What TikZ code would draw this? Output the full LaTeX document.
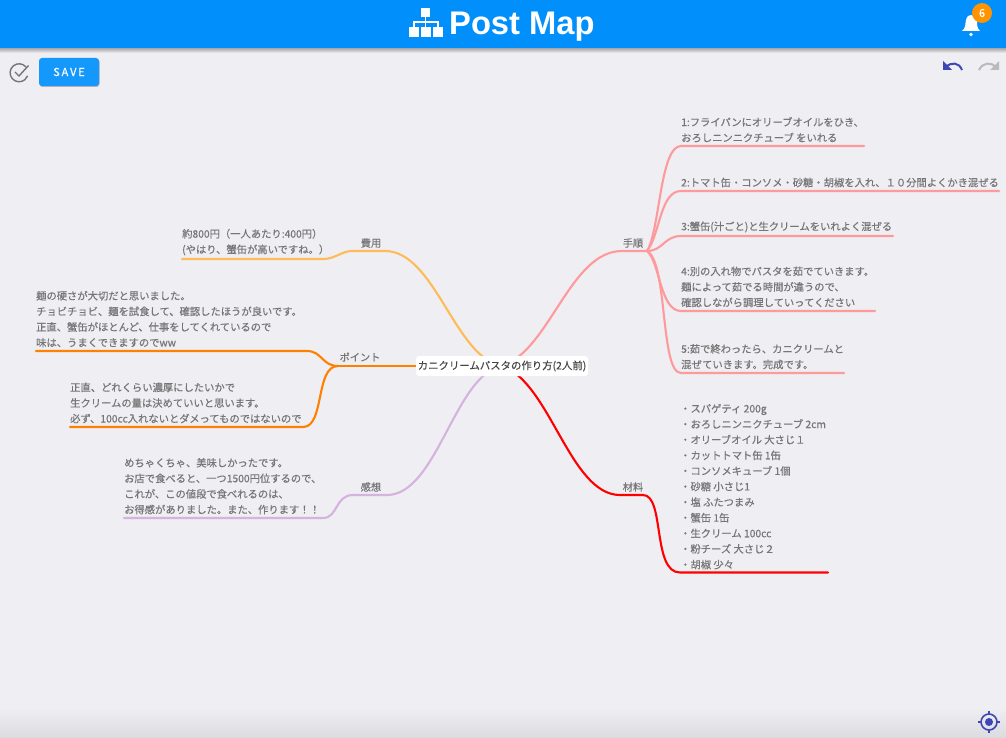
\documentclass[tikz,border=0pt]{standalone}
\usepackage{fontspec}
\setmainfont[FakeBold=0.35]{Noto Sans CJK JP}
\newfontfamily\titlefont[Scale=1]{Liberation Sans}
\usetikzlibrary{positioning}
\definecolor{pagebg}{HTML}{EEEEF3}
\definecolor{barblue}{HTML}{008FFB}
\definecolor{iconblue}{HTML}{3F47B5}
\definecolor{textgray}{HTML}{767676}
\definecolor{stepline}{HTML}{FF9A9C}
\definecolor{costline}{HTML}{FFBB58}
\definecolor{pointline}{HTML}{FF8000}
\definecolor{feelline}{HTML}{D6B2DE}
\definecolor{stuffline}{HTML}{FF0000}
\tikzset{
  branch/.style={line width=2.1pt, line cap=round},
  leaf/.style={inner sep=0pt, align=left, text=textgray, font=\fontsize{10.3}{15.6}\selectfont},
  topic/.style={inner sep=0pt, text=textgray, font=\fontsize{10.2}{12}\selectfont},
  rootbox/.style={fill=white, rounded corners=3pt, minimum width=172pt, minimum height=20pt, inner sep=0pt, text=black!72, font=\fontsize{10.4}{12}\selectfont},
}
\begin{document}
\begin{tikzpicture}[x=1pt,y=-1pt]
\useasboundingbox (0,0) rectangle (1006,738);
\fill[pagebg] (0,0) rectangle (1006,738);
\shade[top color=pagebg, bottom color=black!8!pagebg, draw=none] (0,708) rectangle (1006,738);

% header
\shade[top color=black!30!pagebg, bottom color=pagebg] (0,48) rectangle (1006,53);
\fill[barblue] (0,0) rectangle (1006,48);
\fill[white] (421,8) rectangle (430,17);
\fill[white] (409,27) rectangle (419,37);
\fill[white] (421,27) rectangle (431,37);
\fill[white] (433,27) rectangle (443,37);
\draw[white, line width=1.3pt] (425.5,17) -- (425.5,27) (414,27) -- (414,22) -- (438,22) -- (438,27);
\node[inner sep=0pt, anchor=base west, text=white, font=\titlefont\fontsize{32.7}{33}\selectfont\bfseries] (title) at (449,35) {Post Map};

% bell
\fill[white] (962,31) .. controls (966,28) and (965,24) .. (966,20) .. controls (967,16) and (969,15) .. (971,15) .. controls (974,15) and (976,17) .. (977,21) .. controls (977,25) and (977,28) .. (980,31) -- cycle;
\fill[white] (971,34.5) circle (1.8);
\node[circle, fill=orange!85!yellow, minimum size=20pt, inner sep=0pt, text=white, font=\fontsize{11}{12}\selectfont] (badge) at (982,13) {6};

% save row
\draw[textgray, line width=1.4pt] (26,67) arc[start angle=-40, end angle=-340, radius=9] ;
\draw[textgray, line width=1.4pt] (15,72) -- (19,76) -- (28.5,65.5);
\fill[black!25!pagebg, rounded corners=3pt] (39.5,59) rectangle (99.5,87);
\node[fill=barblue!92!white, rounded corners=3pt, minimum width=60pt, minimum height=28pt, inner sep=0pt, text=white, font=\fontsize{11}{12}\selectfont] (save) at (69,72) {S\,A\,V\,E};

% undo and redo
\fill[iconblue] (943,61) -- (943,70) -- (952,70) -- cycle;
\draw[iconblue, line width=2pt] (946,67) .. controls (951,62) and (959,62) .. (962,70);
\fill[black!22!pagebg] (999,61) -- (999,70) -- (990,70) -- cycle;
\draw[black!22!pagebg, line width=2pt] (996,67) .. controls (991,62) and (983,62) .. (979,70);

% target
\draw[iconblue, line width=1.6pt] (989,722) circle (8);
\fill[iconblue] (989,722) circle (4);
\draw[iconblue, line width=1.6pt] (989,711) -- (989,714) (989,730) -- (989,733) (978,722) -- (981,722) (997,722) -- (1000,722);

% joints and free ends
\coordinate (c) at (502,366);
\coordinate (stepjoint) at (647,251);
\coordinate (stuffjoint) at (643,495);
\coordinate (costjoint) at (352,251);
\coordinate (pointjoint) at (338,366);
\coordinate (feeljoint) at (387,495);
\coordinate (s1) at (681,146);
\coordinate (s2) at (681,191);
\coordinate (s3) at (681,236);
\coordinate (s4) at (681,311);
\coordinate (s5) at (681,373);
\coordinate (m1) at (680,572.5);
\coordinate (k1) at (323,259);
\coordinate (k2) at (182,259);
\coordinate (p1) at (307,351);
\coordinate (p2) at (303,427);
\coordinate (p3) at (36,351);
\coordinate (p4) at (70,427);
\coordinate (f1) at (323,518);
\coordinate (f2) at (124,518);

% Connect nodes
\draw[branch, stepline] (c) .. controls (550,350) and (570,251) .. (622,251) -- (stepjoint);
\draw[branch, stepline] (stepjoint) .. controls (660,230) and (660,146) .. (s1) -- (864,146);
\draw[branch, stepline] (stepjoint) .. controls (660,235) and (660,191) .. (s2) -- (999,191);
\draw[branch, stepline] (stepjoint) .. controls (663,251) and (664,236) .. (s3) -- (893,236);
\draw[branch, stepline] (stepjoint) .. controls (660,262) and (660,311) .. (s4) -- (875,311);
\draw[branch, stepline] (stepjoint) .. controls (668,262) and (660,373) .. (s5) -- (844,373);
\draw[branch, stuffline] (c) .. controls (550,382) and (570,495) .. (620,495) -- (stuffjoint) .. controls (665,495) and (652,572.5) .. (m1) -- (828,572.5);
\draw[branch, costline] (c) .. controls (455,358) and (435,251) .. (385,251) -- (costjoint) .. controls (342,251) and (335,259) .. (k1) -- (k2);
\draw[branch, pointline] (c) -- (pointjoint);
\draw[branch, pointline] (pointjoint) .. controls (322,366) and (322,351) .. (p1) -- (p3);
\draw[branch, pointline] (pointjoint) .. controls (315,366) and (325,427) .. (p2) -- (p4);
\draw[branch, feelline] (c) .. controls (455,374) and (437,495) .. (feeljoint) -- (353,495) .. controls (335,495) and (338,518) .. (f1) -- (f2);

\node[rootbox] (root) at (c) {カニクリームパスタの作り方(2人前)};

% topics
\node[topic] (steps) at (633,243) {手順};
\node[topic] (stuff) at (633,487) {材料};
\node[topic] (cost) at (371,243) {費用};
\node[topic] (point) at (360,357) {ポイント};
\node[topic] (feel) at (371,487) {感想};

% leaves
\node[leaf, above right=3.5pt and 0pt of s1] (step1) {1:フライパンにオリーブオイルをひき、\\おろしニンニクチューブ をいれる};
\node[leaf, above right=3.5pt and 0pt of s2] (step2) {2:トマト缶・コンソメ・砂糖・胡椒を入れ、１０分間よくかき混ぜる};
\node[leaf, above right=3.5pt and 0pt of s3] (step3) {3:蟹缶(汁ごと)と生クリームをいれよく混ぜる};
\node[leaf, above right=3.5pt and 0pt of s4] (step4) {4:別の入れ物でパスタを茹でていきます。\\麺によって茹でる時間が違うので、\\確認しながら調理していってください};
\node[leaf, above right=3.5pt and 0pt of s5] (step5) {5:茹で終わったら、カニクリームと\\混ぜていきます。完成です。};
\node[leaf, above right=3pt and 0pt of m1] (items) {・スパゲティ 200g\\・おろしニンニクチューブ 2cm\\・オリーブオイル 大さじ１\\・カットトマト缶 1缶\\・コンソメキューブ 1個\\・砂糖 小さじ1\\・塩 ふたつまみ\\・蟹缶 1缶\\・生クリーム 100cc\\・粉チーズ 大さじ２\\・胡椒 少々};
\node[leaf, above right=3.5pt and 0pt of k2] (cost1) {約800円（一人あたり:400円）\\(やはり、蟹缶が高いですね。）};
\node[leaf, above right=3.5pt and 0pt of p3] (point1) {麺の硬さが大切だと思いました。\\チョビチョビ、麺を試食して、確認したほうが良いです。\\正直、蟹缶がほとんど、仕事をしてくれているので\\味は、うまくできますのでww};
\node[leaf, above right=3.5pt and 0pt of p4] (point2) {正直、どれくらい濃厚にしたいかで\\生クリームの量は決めていいと思います。\\必ず、100cc入れないとダメってものではないので};
\node[leaf, above right=3.5pt and 0pt of f2] (feel1) {めちゃくちゃ、美味しかったです。\\お店で食べると、一つ1500円位するので、\\これが、この値段で食べれるのは、\\お得感がありました。また、作ります！！};
\end{tikzpicture}
\end{document}
